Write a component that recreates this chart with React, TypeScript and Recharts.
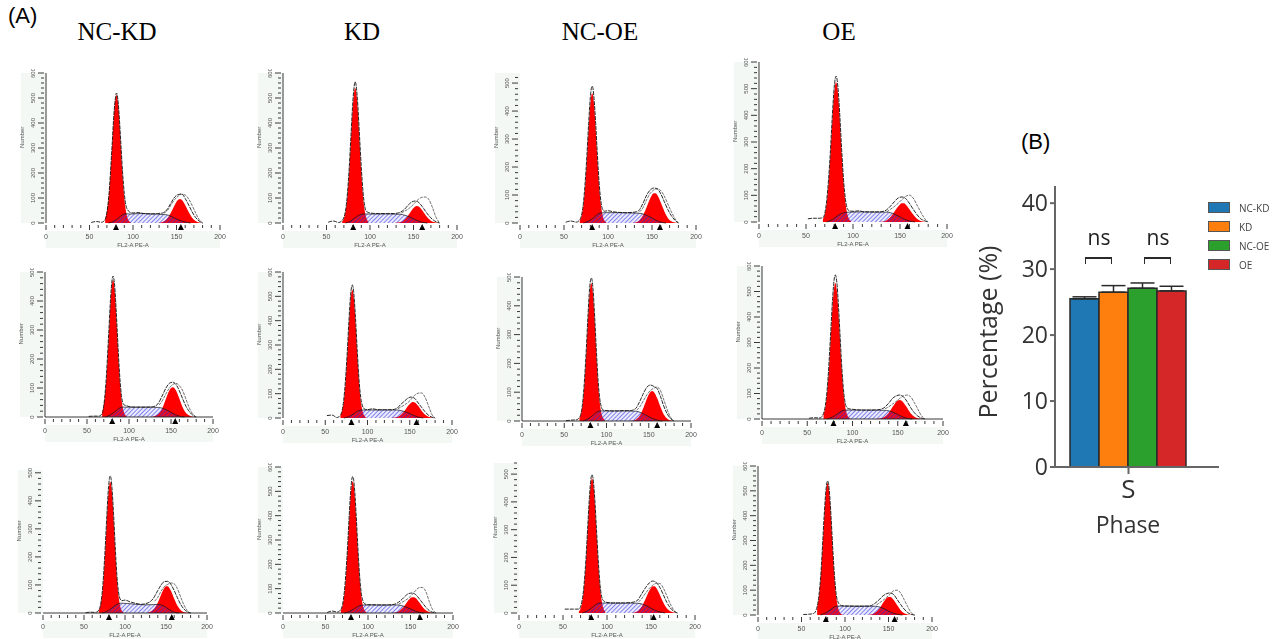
import { Area, Bar, BarChart, ComposedChart, ErrorBar, Legend, Line, ReferenceDot, XAxis, YAxis } from "recharts";

const columnTitles = ["NC-KD", "KD", "NC-OE", "OE"];

// flow cytometry histograms, row by row, one line per panel
const yTops = [600, 600, 536, 600, 500, 600, 500, 600, 510, 600, 540, 600];
const xTicks = [0, 10, 20, 30, 40, 50, 60, 70, 80, 90, 100, 110, 120, 130, 140, 150, 160, 170, 180, 190, 200];
const yTicks = [0, 20, 40, 60, 80, 100, 120, 140, 160, 180, 200, 220, 240, 260, 280, 300, 320, 340, 360, 380, 400, 420, 440, 460, 480, 500, 520, 540, 560, 580, 600];

const g1Xs = [68, 70, 72, 74, 76, 78, 79, 80, 81, 82, 83, 84, 85, 86, 88, 90, 92, 94, 96, 98];
const g1Values = [
  [17, 46, 101, 192, 311, 428, 473, 502, 512, 502, 473, 428, 372, 311, 192, 101, 46, 17, 6, 0],
  [6, 18, 48, 107, 203, 328, 392, 451, 498, 529, 540, 529, 498, 451, 328, 203, 107, 48, 18, 6],
  [9, 26, 63, 129, 226, 337, 387, 428, 455, 464, 455, 428, 387, 337, 226, 129, 63, 26, 9, 3],
  [10, 29, 71, 146, 255, 380, 438, 484, 514, 524, 514, 484, 438, 380, 255, 146, 71, 29, 10, 3],
  [16, 42, 93, 177, 287, 394, 436, 463, 472, 463, 436, 394, 343, 287, 177, 93, 42, 16, 5, 0],
  [11, 30, 71, 147, 257, 383, 440, 486, 516, 527, 516, 486, 440, 383, 257, 147, 71, 30, 11, 3],
  [10, 27, 65, 133, 233, 348, 400, 442, 469, 479, 469, 442, 400, 348, 233, 133, 65, 27, 10, 3],
  [18, 47, 106, 200, 324, 445, 492, 522, 533, 522, 492, 445, 387, 324, 200, 106, 47, 18, 6, 0],
  [9, 26, 63, 130, 228, 340, 391, 432, 459, 468, 459, 432, 391, 340, 228, 130, 63, 26, 9, 3],
  [11, 30, 73, 150, 263, 393, 452, 499, 530, 541, 530, 499, 452, 393, 263, 150, 73, 30, 11, 3],
  [5, 16, 43, 96, 182, 294, 351, 404, 447, 474, 484, 474, 447, 404, 294, 182, 96, 43, 16, 5],
  [30, 72, 148, 259, 386, 491, 521, 532, 521, 491, 444, 386, 323, 259, 148, 72, 30, 11, 3, 0],
];

const g2Xs = [128, 132, 136, 140, 144, 148, 150, 152, 154, 156, 160, 164, 168, 172, 176, 180];
const g2Values = [
  [0, 2, 8, 21, 44, 72, 85, 93, 96, 93, 72, 44, 21, 8, 2, 0],
  [0, 2, 5, 15, 31, 51, 60, 66, 68, 66, 51, 31, 15, 5, 2, 0],
  [1, 3, 11, 29, 57, 88, 100, 106, 106, 100, 73, 42, 18, 6, 2, 0],
  [1, 2, 7, 19, 38, 58, 66, 70, 70, 66, 48, 28, 12, 4, 1, 0],
  [1, 5, 14, 33, 63, 91, 100, 103, 100, 91, 63, 33, 14, 5, 1, 0],
  [0, 2, 5, 14, 30, 50, 58, 64, 66, 64, 50, 30, 14, 5, 2, 0],
  [1, 2, 8, 22, 48, 79, 92, 101, 104, 101, 79, 48, 22, 8, 2, 1],
  [1, 3, 10, 24, 46, 66, 73, 75, 73, 66, 46, 24, 10, 3, 1, 0],
  [2, 6, 17, 37, 65, 89, 95, 95, 89, 79, 51, 26, 10, 3, 1, 0],
  [1, 2, 7, 18, 35, 54, 62, 65, 65, 62, 45, 26, 11, 4, 1, 0],
  [1, 3, 10, 26, 52, 80, 90, 96, 96, 90, 66, 38, 17, 6, 2, 0],
  [1, 4, 13, 28, 50, 68, 72, 72, 68, 60, 39, 19, 7, 2, 1, 0],
];

const sXs = [72, 78, 84, 88, 92, 96, 110, 125, 135, 140, 145, 150, 155, 160, 166];
const sValues = [
  [0, 7, 22, 33, 37, 36, 38, 36, 34, 32, 25, 16, 9, 4, 0],
  [0, 8, 24, 32, 36, 36, 36, 36, 35, 31, 25, 17, 9, 3, 0],
  [0, 7, 20, 31, 36, 37, 37, 36, 35, 32, 26, 18, 9, 3, 0],
  [0, 9, 24, 32, 36, 37, 38, 37, 37, 35, 28, 19, 10, 4, 0],
  [0, 8, 20, 30, 34, 34, 34, 34, 33, 30, 24, 16, 8, 3, 0],
  [0, 6, 18, 28, 32, 33, 33, 33, 33, 30, 25, 18, 10, 4, 0],
  [0, 7, 20, 30, 35, 35, 35, 35, 34, 30, 23, 15, 8, 3, 0],
  [0, 8, 22, 31, 35, 35, 35, 35, 34, 32, 26, 18, 9, 3, 0],
  [0, 6, 18, 27, 33, 35, 32, 29, 30, 31, 28, 20, 10, 3, 0],
  [0, 6, 18, 27, 32, 33, 33, 33, 33, 30, 24, 17, 9, 3, 0],
  [0, 8, 22, 32, 36, 36, 36, 36, 35, 32, 26, 17, 9, 4, 0],
  [0, 9, 23, 33, 36, 36, 36, 36, 35, 32, 25, 16, 8, 3, 0],
];

const histXs = [52, 58, 64, 68, 72, 76, 78, 80, 81, 82, 83, 84, 86, 88, 90, 92, 94, 96, 100, 106, 112, 120, 128, 134, 140, 144, 148, 152, 156, 160, 164, 168, 172, 176, 180];
const histValues = [
  [2, 6, 3, 14, 100, 312, 432, 505, 520, 510, 480, 436, 320, 205, 118, 68, 52, 44, 40, 42, 38, 36, 38, 40, 58, 82, 104, 114, 116, 98, 72, 44, 22, 8, 0],
  [3, 8, 2, 10, 52, 214, 342, 470, 520, 552, 565, 552, 470, 345, 222, 124, 66, 46, 40, 38, 38, 38, 38, 42, 56, 72, 84, 88, 82, 66, 46, 28, 14, 5, 0],
  [3, 7, 3, 12, 70, 240, 356, 452, 480, 489, 480, 450, 356, 240, 140, 76, 48, 42, 44, 40, 38, 37, 38, 42, 72, 100, 118, 125, 122, 104, 76, 48, 26, 10, 0],
  [12, 14, 14, 16, 80, 268, 398, 505, 536, 547, 536, 505, 398, 268, 156, 84, 50, 42, 40, 42, 38, 38, 38, 42, 60, 76, 90, 94, 88, 70, 48, 28, 12, 5, 0],
  [2, 3, 3, 12, 97, 296, 406, 476, 486, 476, 450, 406, 296, 185, 102, 56, 42, 40, 36, 34, 34, 34, 35, 44, 76, 100, 116, 120, 112, 90, 62, 36, 18, 6, 0],
  [10, 12, 2, 12, 78, 268, 398, 505, 536, 547, 536, 505, 398, 268, 155, 84, 50, 38, 34, 38, 34, 34, 34, 38, 58, 70, 82, 86, 80, 62, 44, 26, 12, 4, 0],
  [1, 3, 4, 12, 70, 244, 362, 460, 488, 497, 488, 460, 362, 246, 142, 78, 48, 38, 36, 35, 35, 36, 36, 42, 72, 98, 118, 125, 120, 112, 84, 50, 24, 8, 0],
  [3, 5, 4, 22, 115, 344, 472, 554, 565, 554, 524, 472, 344, 214, 116, 62, 44, 40, 38, 36, 35, 35, 36, 42, 62, 80, 90, 94, 88, 70, 46, 26, 12, 4, 0],
  [1, 3, 2, 10, 68, 240, 356, 452, 480, 489, 480, 450, 356, 240, 138, 76, 50, 44, 46, 40, 35, 31, 36, 50, 80, 100, 112, 113, 102, 80, 54, 30, 14, 4, 0],
  [2, 8, 4, 14, 82, 274, 408, 518, 550, 561, 550, 518, 408, 274, 160, 84, 50, 38, 34, 34, 33, 33, 34, 40, 56, 70, 80, 82, 76, 60, 42, 24, 10, 3, 0],
  [14, 14, 14, 14, 50, 190, 304, 416, 460, 488, 498, 488, 416, 304, 192, 104, 58, 44, 38, 36, 36, 36, 38, 44, 72, 92, 108, 115, 110, 92, 66, 38, 18, 6, 0],
  [2, 3, 6, 34, 152, 396, 500, 540, 530, 500, 452, 394, 264, 154, 80, 52, 42, 38, 36, 36, 35, 35, 36, 46, 64, 78, 86, 89, 82, 62, 42, 24, 10, 3, 0],
];

// second, shifted run traced as a dashed hump over G2
const shiftXs = [136, 140, 144, 148, 152, 156, 160, 164, 168, 172, 176, 180];
const shiftValues = [
  [40, 52, 74, 94, 108, 115, 112, 96, 70, 40, 14, 0],
  [40, 48, 56, 68, 82, 96, 103, 104, 92, 60, 22, 0],
  [40, 56, 84, 106, 118, 122, 116, 96, 68, 40, 16, 0],
  [38, 48, 58, 70, 84, 96, 101, 90, 64, 38, 14, 0],
  [42, 58, 80, 100, 112, 116, 108, 90, 60, 30, 10, 0],
  [38, 46, 54, 64, 78, 94, 102, 103, 86, 52, 16, 0],
  [38, 52, 72, 92, 106, 114, 118, 104, 72, 38, 12, 0],
  [40, 48, 58, 68, 80, 90, 94, 88, 66, 40, 14, 0],
  [42, 56, 78, 94, 102, 107, 104, 86, 56, 28, 8, 0],
  [36, 44, 52, 62, 76, 92, 104, 105, 88, 48, 14, 0],
  [40, 54, 72, 88, 100, 107, 106, 90, 62, 32, 10, 0],
  [40, 50, 60, 72, 84, 98, 100, 88, 62, 34, 10, 0],
];

const markerXs = [
  [80.5, 155], [80.7, 160], [82, 159], [81, 158],
  [80, 155], [81, 158], [81, 160], [79, 159],
  [80.5, 157], [80, 161], [82, 153], [78, 157],
];

// bar panel
const phaseLabels = ["S"];
const groupNames = ["NC-KD", "KD", "NC-OE", "OE"];
const groupValues = [25.5, 26.5, 27.1, 26.7];
const groupErrors = [0.3, 1, 0.8, 0.7];
const groupColors = ["#1f77b4", "#ff7f0e", "#2ca02c", "#d62728"];
const percentTicks = [0, 10, 20, 30, 40];

// pixel frame of each histogram: x of 0, x of 200, y of the top, y of the baseline
const panelFrames = [
  [46, 220, 73, 223], [283, 457, 73, 223], [520, 696, 73, 223], [759, 947, 62, 222],
  [45, 213, 272, 417], [283, 452, 272, 418], [522, 691, 277, 421], [762, 943, 266, 419],
  [43, 207, 470, 613], [283, 453, 467, 613], [519, 695, 463, 613], [758, 932, 466, 615],
];
const showYLine = [true, true, false, true, true, true, true, true, false, false, false, true];
const showXLine = [false, false, false, false, true, false, true, true, true, true, false, false];

const barRows = phaseLabels.map((phase) => {
  const row: Record<string, unknown> = { phase };
  groupNames.forEach((name, i) => {
    row[name] = groupValues[i];
    row[`${name}-err`] = [0, groupErrors[i]];
  });
  return row;
});

function buildRows(i: number) {
  const rows = new Map<number, Record<string, number>>();
  const put = (xs: number[], values: number[], key: string) => {
    xs.forEach((x, k) => {
      const row = rows.get(x) ?? { x };
      row[key] = values[k];
      rows.set(x, row);
    });
  };
  put(g1Xs, g1Values[i], "g1");
  put(g2Xs, g2Values[i], "g2");
  put(sXs, sValues[i], "s");
  put(histXs, histValues[i], "hist");
  put(shiftXs, shiftValues[i], "shift");
  return [...rows.values()].sort((a, b) => a.x - b.x);
}

function XTick({ x, y, payload }: any) {
  const major = payload.value % 50 === 0;
  return (
    <g>
      <line x1={x} x2={x} y1={y} y2={y + (major ? 5 : 3)} stroke="#222" strokeWidth={0.9} />
      {major && (
        <text x={x} y={y + 14} textAnchor="middle" fontSize={7} fill="#555" fontFamily="Liberation Sans">
          {payload.value}
        </text>
      )}
    </g>
  );
}

function YTick({ x, y, payload }: any) {
  const major = payload.value % 100 === 0;
  return (
    <g>
      <line x1={x} x2={x - (major ? 6 : 3)} y1={y} y2={y} stroke="#222" strokeWidth={0.9} />
      {major && (
        <text
          x={x - 9}
          y={y}
          textAnchor="middle"
          fontSize={6}
          fill="#555"
          fontFamily="Liberation Sans"
          transform={`rotate(-90 ${x - 9} ${y})`}
        >
          {payload.value}
        </text>
      )}
    </g>
  );
}

function Marker({ cx, cy }: any) {
  return <polygon points={`${cx - 3},${cy + 7} ${cx + 3},${cy + 7} ${cx},${cy + 1}`} fill="#000" />;
}

function Histogram({ index }: { index: number }) {
  const [x0, x200, top, base] = panelFrames[index];
  const pad = { left: 26, right: 8, top: 4, bottom: 26 };
  const width = x200 - x0 + pad.left + pad.right;
  const height = base - top + pad.top + pad.bottom;
  const hatch = `hatch-${index}`;
  return (
    <>
      <div style={{ position: "absolute", left: x0 - 25, top, width: 25, height: base - top, background: "#f3f8f4" }} />
      <div style={{ position: "absolute", left: x0, top: base + 8, width: x200 - x0, height: 17, background: "#f3f8f4" }} />
      <div style={{ position: "absolute", left: x0 - pad.left, top: top - pad.top }}>
        <ComposedChart
          width={width}
          height={height}
          data={buildRows(index)}
          margin={{ top: pad.top, right: pad.right, left: 0, bottom: 0 }}
        >
          <defs>
            <pattern id={hatch} patternUnits="userSpaceOnUse" width={3} height={3} patternTransform="rotate(45)">
              <rect width={3} height={3} fill="#6060f0" fillOpacity={0.12} />
              <line x1={0} y1={0} x2={0} y2={3} stroke="#2828e0" strokeWidth={1.1} />
            </pattern>
          </defs>
          <XAxis
            type="number"
            dataKey="x"
            domain={[0, 200]}
            ticks={xTicks}
            interval={0}
            height={pad.bottom}
            axisLine={showXLine[index] ? { stroke: "#222", strokeWidth: 0.9 } : false}
            tickLine={false}
            tickSize={0}
            tick={<XTick />}
            label={{
              value: "FL2-A PE-A",
              position: "insideBottom",
              offset: 2,
              fontSize: 6,
              fill: "#555",
              fontFamily: "Liberation Sans",
            }}
          />
          <YAxis
            type="number"
            domain={[0, yTops[index]]}
            ticks={yTicks.filter((t) => t <= yTops[index])}
            interval={0}
            width={pad.left}
            axisLine={showYLine[index] ? { stroke: "#222", strokeWidth: 0.9 } : false}
            tickLine={false}
            tickSize={0}
            tick={<YTick />}
            label={{
              value: "Number",
              angle: -90,
              position: "insideLeft",
              offset: 2,
              fontSize: 6,
              fill: "#555",
              fontFamily: "Liberation Sans",
            }}
          />
          <Area dataKey="g1" type="monotone" connectNulls fill="#ff0000" fillOpacity={1} stroke="none" dot={false} activeDot={false} isAnimationActive={false} />
          <Area dataKey="g2" type="monotone" connectNulls fill="#ff0000" fillOpacity={1} stroke="none" dot={false} activeDot={false} isAnimationActive={false} />
          <Area dataKey="s" type="monotone" connectNulls fill={`url(#${hatch})`} fillOpacity={1} stroke="#111" strokeWidth={0.7} dot={false} activeDot={false} isAnimationActive={false} />
          <Line dataKey="hist" type="monotone" connectNulls stroke="#111" strokeWidth={0.9} strokeDasharray="4 1" dot={false} activeDot={false} isAnimationActive={false} />
          <Line dataKey="shift" type="monotone" connectNulls stroke="#333" strokeWidth={0.7} strokeDasharray="3 1" dot={false} activeDot={false} isAnimationActive={false} />
          {markerXs[index].map((mx) => (
            <ReferenceDot key={mx} x={mx} y={0} r={3} ifOverflow="visible" shape={<Marker />} />
          ))}
        </ComposedChart>
      </div>
    </>
  );
}

function GroupLegend() {
  return (
    <div style={{ width: 80 }}>
      {groupNames.map((name, i) => (
        <div key={name} style={{ display: "flex", alignItems: "center", height: 19 }}>
          <span style={{ width: 20, height: 9, background: groupColors[i], border: "1px solid #555", marginRight: 9 }} />
          <span style={{ fontSize: 10, color: "#444", fontFamily: "Open Sans" }}>{name}</span>
        </div>
      ))}
    </div>
  );
}

function PercentChart() {
  const font = { fontFamily: "Open Sans", fill: "#333" };
  return (
    <div style={{ position: "absolute", left: 970, top: 176 }}>
      <BarChart
        width={317}
        height={381}
        data={barRows}
        barGap={0}
        barCategoryGap={15}
        margin={{ top: 10, right: 68, left: 40, bottom: 0 }}
      >
        <XAxis
          dataKey="phase"
          height={90}
          padding={{ left: 0, right: 17 }}
          axisLine={{ stroke: "#666", strokeWidth: 2 }}
          tickLine={{ stroke: "#666", strokeWidth: 2 }}
          tickSize={7}
          tickMargin={6}
          tick={{ ...font, fontSize: 26 }}
          label={{ value: "Phase", position: "insideBottom", offset: 24, dx: -9, ...font, fontSize: 23 }}
        />
        <YAxis
          domain={[0, 42.6]}
          ticks={percentTicks}
          interval={0}
          width={45}
          axisLine={{ stroke: "#666", strokeWidth: 2 }}
          tickLine={{ stroke: "#666", strokeWidth: 2 }}
          tickSize={5}
          tick={{ ...font, fontSize: 23 }}
          label={{ value: "Percentage (%)", angle: -90, position: "insideLeft", offset: -22, dy: 92, ...font, fontSize: 25 }}
        />
        <Legend
          layout="vertical"
          align="center"
          verticalAlign="middle"
          content={<GroupLegend />}
          wrapperStyle={{ left: 238, top: 22, width: 80 }}
        />
        {groupNames.map((name, i) => (
          <Bar key={name} dataKey={name} fill={groupColors[i]} stroke="#2a2a2a" strokeWidth={1.5} isAnimationActive={false}>
            <ErrorBar dataKey={`${name}-err`} direction="y" width={12} stroke="#2a2a2a" strokeWidth={1.5} isAnimationActive={false} />
          </Bar>
        ))}
      </BarChart>
    </div>
  );
}

function Bracket({ left, top }: { left: number; top: number }) {
  return (
    <>
      <div style={{ position: "absolute", left, top, width: 25, height: 5, borderTop: "2px solid #2a2a2a", borderLeft: "1.5px solid #2a2a2a", borderRight: "1.5px solid #2a2a2a" }} />
      <div style={{ position: "absolute", left: left - 10, top: top - 34, width: 48, textAlign: "center", fontFamily: "Open Sans", fontSize: 21, color: "#222" }}>ns</div>
    </>
  );
}

export default function App() {
  const titleCenters = [117, 362, 600, 839];
  return (
    <div style={{ position: "absolute", left: 0, top: 0, width: 1287, height: 639, background: "#fff", overflow: "hidden" }}>
      <div style={{ position: "absolute", left: 8, top: 3, fontFamily: "Liberation Sans", fontSize: 22 }}>(A)</div>
      <div style={{ position: "absolute", left: 1021, top: 129, fontFamily: "Liberation Sans", fontSize: 22 }}>(B)</div>
      {columnTitles.map((title, i) => (
        <div
          key={title}
          style={{ position: "absolute", left: titleCenters[i] - 60, top: 18, width: 120, textAlign: "center", fontFamily: "Liberation Serif", fontSize: 25 }}
        >
          {title}
        </div>
      ))}
      <div style={{ filter: "blur(0.5px)" }}>
        {panelFrames.map((_, i) => (
          <Histogram key={i} index={i} />
        ))}
      </div>
      <div style={{ filter: "blur(0.4px)" }}>
        <PercentChart />
        <Bracket left={1085} top={257} />
        <Bracket left={1144} top={257} />
      </div>
    </div>
  );
}
